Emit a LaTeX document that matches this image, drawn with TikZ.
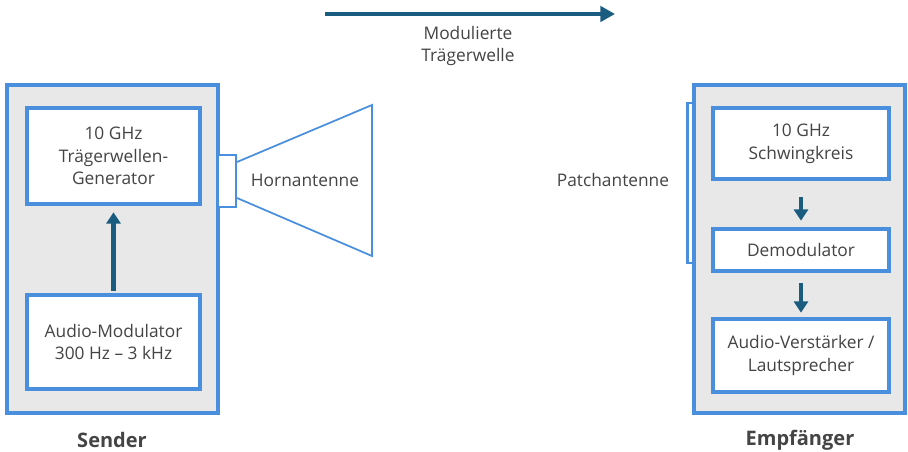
\documentclass[tikz,border=0pt]{standalone}
\usepackage{fontspec}
\setmainfont{Open Sans}
\usetikzlibrary{arrows.meta,calc}
\definecolor{bordblue}{HTML}{4A8FDD}
\definecolor{boxgray}{HTML}{E8E8E8}
\definecolor{arrblue}{HTML}{1A5C80}
\definecolor{txtgray}{HTML}{444444}
\tikzset{
  outerbox/.style={draw=bordblue, fill=boxgray, line width=2.4pt, inner sep=0pt},
  innerbox/.style={draw=bordblue, fill=white, line width=2.4pt, inner sep=0pt, align=center,
     text=txtgray, font=\fontsize{13}{17}\selectfont},
  lbl/.style={text=txtgray, font=\fontsize{13}{17}\selectfont, align=center},
  boldlbl/.style={text=txtgray, font=\fontsize{15}{17}\selectfont\bfseries},
  flow/.style={draw=arrblue, line width=3.6pt, -{Triangle[width=10.5pt,length=8.5pt]}},
  antline/.style={draw=bordblue, line width=1.3pt}
}
\begin{document}
\begin{tikzpicture}[x=0.75pt,y=-0.75pt]
\useasboundingbox (0,0) rectangle (908,452);
% Sender
\node[outerbox, minimum width={211*0.75pt}, minimum height={328*0.75pt}] (send) at (112.5,249) {};
\node[innerbox, minimum width={173*0.75pt}, minimum height={96*0.75pt}] (gen) at (113.5,156) {10 GHz\\Trägerwellen-\\Generator};
\node[innerbox, minimum width={173*0.75pt}, minimum height={94*0.75pt}] (mod) at (113.5,342) {Audio-Modulator\\300 Hz – 3 kHz};
\draw[flow, shorten <=2pt, shorten >=5pt] (mod.north) -- (gen.south);
% Horn antenna
\node[draw=bordblue, fill=white, line width=1.8pt, inner sep=0pt, minimum width={18*0.75pt}, minimum height={52*0.75pt}] (feed) at (227,181) {};
\draw[antline, fill=white] (237,162) -- (372,105) -- (372,256) -- (237,198);
\node[lbl] (horn) at (305,180) {Hornantenne};
% Receiver
\node[outerbox, minimum width={211*0.75pt}, minimum height={328*0.75pt}] (recv) at (799.5,249) {};
\node[draw=bordblue, fill=white, line width=1.6pt, inner sep=0pt, minimum width={6*0.75pt}, minimum height={160*0.75pt}] (patch) at (690.5,183) {};
\node[lbl] (patchlbl) at (613,180) {Patchantenne};
\node[innerbox, minimum width={176*0.75pt}, minimum height={71*0.75pt}] (schw) at (801,143.5) {10 GHz\\Schwingkreis};
\node[innerbox, minimum width={176*0.75pt}, minimum height={42*0.75pt}] (demod) at (801,250) {Demodulator};
\node[innerbox, minimum width={176*0.75pt}, minimum height={73*0.75pt}] (audio) at (801,355.5) {Audio-Verstärker /\\Lautsprecher};
\draw[flow, shorten <=12pt, shorten >=5pt] (schw.south) -- (demod.north);
\draw[flow, shorten <=8pt, shorten >=3.5pt] (demod.south) -- (audio.north);
% Top arrow
\coordinate (wstart) at (325,14);
\coordinate (wend) at (615,14);
\draw[flow, -{Triangle[width=11.5pt,length=11pt]}] (wstart) -- (wend);
\node[lbl] (wave) at (468,46) {Modulierte\\Trägerwelle};
% Labels
\node[boldlbl] (sendlbl) at (112,440) {Sender};
\node[boldlbl] (recvlbl) at (800,440) {Empfänger};
\end{tikzpicture}
\end{document}
